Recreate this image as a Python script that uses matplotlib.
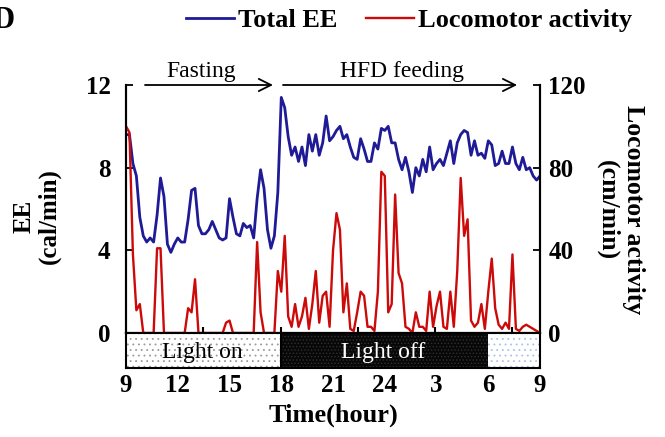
import numpy as np
import matplotlib.pyplot as plt

plt.rcParams['font.family'] = ['Liberation Serif', 'DejaVu Serif']
plt.rcParams['font.weight'] = 'bold'
plt.rcParams['hatch.linewidth'] = 0.6

# hours after 9:00, one reading every 0.2 h
step = 0.2

total_ee = [
    9.6, 9.6, 8.2, 7.6, 5.6, 4.7, 4.4, 4.6, 4.4, 5.7,
    7.5, 6.6, 4.3, 3.9, 4.3, 4.6, 4.4, 4.4, 5.5, 6.9,
    7.0, 5.2, 4.8, 4.8, 5.0, 5.4, 5.0, 4.6, 4.5, 4.6,
    6.5, 5.6, 4.8, 4.7, 5.3, 5.1, 5.2, 4.6, 6.5, 7.9,
    7.0, 5.0, 4.1, 4.7, 6.8, 11.4, 10.9, 9.5, 8.6, 9.0,
    8.3, 9.0, 8.1, 9.6, 8.8, 9.6, 8.6, 9.2, 10.5, 9.3,
    9.5, 9.8, 10.0, 9.4, 9.6, 9.0, 8.5, 8.4, 9.4, 8.9,
    8.3, 8.3, 9.2, 8.9, 9.9, 9.8, 10.0, 9.2, 9.2, 8.4,
    7.9, 8.5, 7.8, 6.8, 8.0, 7.6, 8.4, 7.8, 9.0, 7.9,
    8.2, 8.4, 8.1, 8.7, 9.3, 8.2, 9.2, 9.6, 9.8, 9.7,
    8.6, 9.3, 8.6, 8.7, 8.45, 9.3, 9.1, 8.1, 8.2, 8.8,
    8.2, 8.2, 9.0, 8.2, 7.9, 8.5, 7.9, 8.0, 7.6, 7.4,
    7.6,
]

locomotor = [
    100, 97, 38, 11, 14, 0, 0, 0, 0, 41,
    41, 0, 0, 0, 0, 0, 0, 0, 12, 10,
    26, 0, 0, 0, 0, 0, 0, 0, 0, 5,
    6, 0, 0, 0, 0, 0, 0, 0, 44, 10,
    0, 0, 0, 0, 30, 20, 47, 8, 3, 14,
    3, 8, 17, 2, 14, 30, 5, 18, 20, 3,
    40, 58, 50, 10, 24, 2, 1, 10, 20, 18,
    3, 3, 1, 20, 78, 76, 10, 14, 67, 29,
    24, 3, 2, 0, 10, 3, 3, 1, 20, 3,
    13, 20, 3, 2, 20, 3, 30, 75, 47, 55,
    6, 3, 5, 14, 2, 20, 36, 12, 4, 2,
    5, 2, 38, 2, 1, 3, 4, 3, 2, 1,
    0,
]

hour_labels = ['9', '12', '15', '18', '21', '24', '3', '6', '9']
light_on = (0, 9)
light_off = (9, 21)
light_on2 = (21, 24)

hours = np.arange(len(total_ee)) * step

fig = plt.figure(figsize=(6.65, 4.37), dpi=100)
ax = fig.add_axes([0.1895, 0.238, 0.6226, 0.5675])
ax2 = ax.twinx()
bar = fig.add_axes([0.1895, 0.158, 0.6226, 0.0801])

blue = '#1f1a96'
red = '#cc0a0a'
ax.plot(hours, total_ee, color=blue, lw=2.0, label='Total EE')
ax2.plot(hours, locomotor, color=red, lw=1.7, label='Locomotor activity')

ax.set_xlim(0, 24)
ax.set_ylim(0, 12)
ax2.set_ylim(0, 120)
ax.set_yticks([0, 4, 8, 12])
ax2.set_yticks([0, 40, 80, 120])
ax.set_xticks([4.48, 8.96, 13.44, 17.92, 22.4])
ax.set_xticklabels([])
ax.tick_params(axis='x', direction='in', length=4, width=1.5)
ax.tick_params(axis='y', direction='in', length=5, width=1.3, labelsize=18, pad=11)
ax2.tick_params(axis='y', direction='in', length=5, width=1.3, labelsize=18, pad=6)
for a in (ax, ax2):
    a.spines['top'].set_visible(False)
    for s in ('left', 'right', 'bottom'):
        a.spines[s].set_linewidth(1.5)

# top arrows
arrow = dict(arrowstyle='->', lw=1.3, color='black', mutation_scale=22, shrinkA=0, shrinkB=0)
ax.annotate('', xy=(8.52, 12), xytext=(1.1, 12), arrowprops=arrow, annotation_clip=False)
ax.annotate('', xy=(22.67, 12), xytext=(9.1, 12), arrowprops=arrow, annotation_clip=False)
ax.text(4.38, 12.4, 'Fasting', ha='center', va='baseline', fontsize=17, weight='normal')
ax.text(16.0, 12.4, 'HFD feeding', ha='center', va='baseline', fontsize=17, weight='normal')

# light / dark bar
bar.set_xlim(0, 24)
bar.set_ylim(0, 1)
bar.axvspan(*light_on, facecolor='white', edgecolor='#9a9a9a', hatch='...', lw=0)
bar.axvspan(*light_off, facecolor='#080808', edgecolor='#303030', hatch='.....', lw=0)
bar.axvspan(*light_on2, facecolor='white', edgecolor='#a9c1ea', hatch='...', lw=0)
bar.axvline(light_on[1], color='black', lw=1.5)
bar.text(4.43, 0.45, 'Light on', ha='center', va='center', fontsize=17, weight='normal')
bar.text(14.9, 0.45, 'Light off', ha='center', va='center', fontsize=17, weight='normal',
         color='white')
for s in bar.spines.values():
    s.set_linewidth(1.5)
bar.set_yticks([])
bar.set_xticks(range(0, 25, 3))
bar.set_xticklabels(hour_labels)
bar.tick_params(axis='x', length=0, labelsize=18, pad=4)
bar.set_xlabel('Time(hour)', fontsize=19, labelpad=5, weight='bold')

fig.text(0.055, 0.505, 'EE\n(cal/min)', rotation=90, ha='center', va='center',
         fontsize=18, multialignment='center', linespacing=1.1)
fig.text(0.933, 0.52, 'Locomotor activity\n(cm/min)', rotation=270, ha='center',
         va='center', fontsize=18.5, multialignment='center', linespacing=1.2)

fig.legend(loc='center', bbox_to_anchor=(0.615, 0.953), ncol=2, frameon=False,
           fontsize=19, handlelength=1.8, handletextpad=0.15, columnspacing=1.1,
           borderaxespad=0)
fig.text(-0.012, 0.953, 'D', ha='left', va='center', fontsize=22)

fig.savefig('out.png', dpi=100)
